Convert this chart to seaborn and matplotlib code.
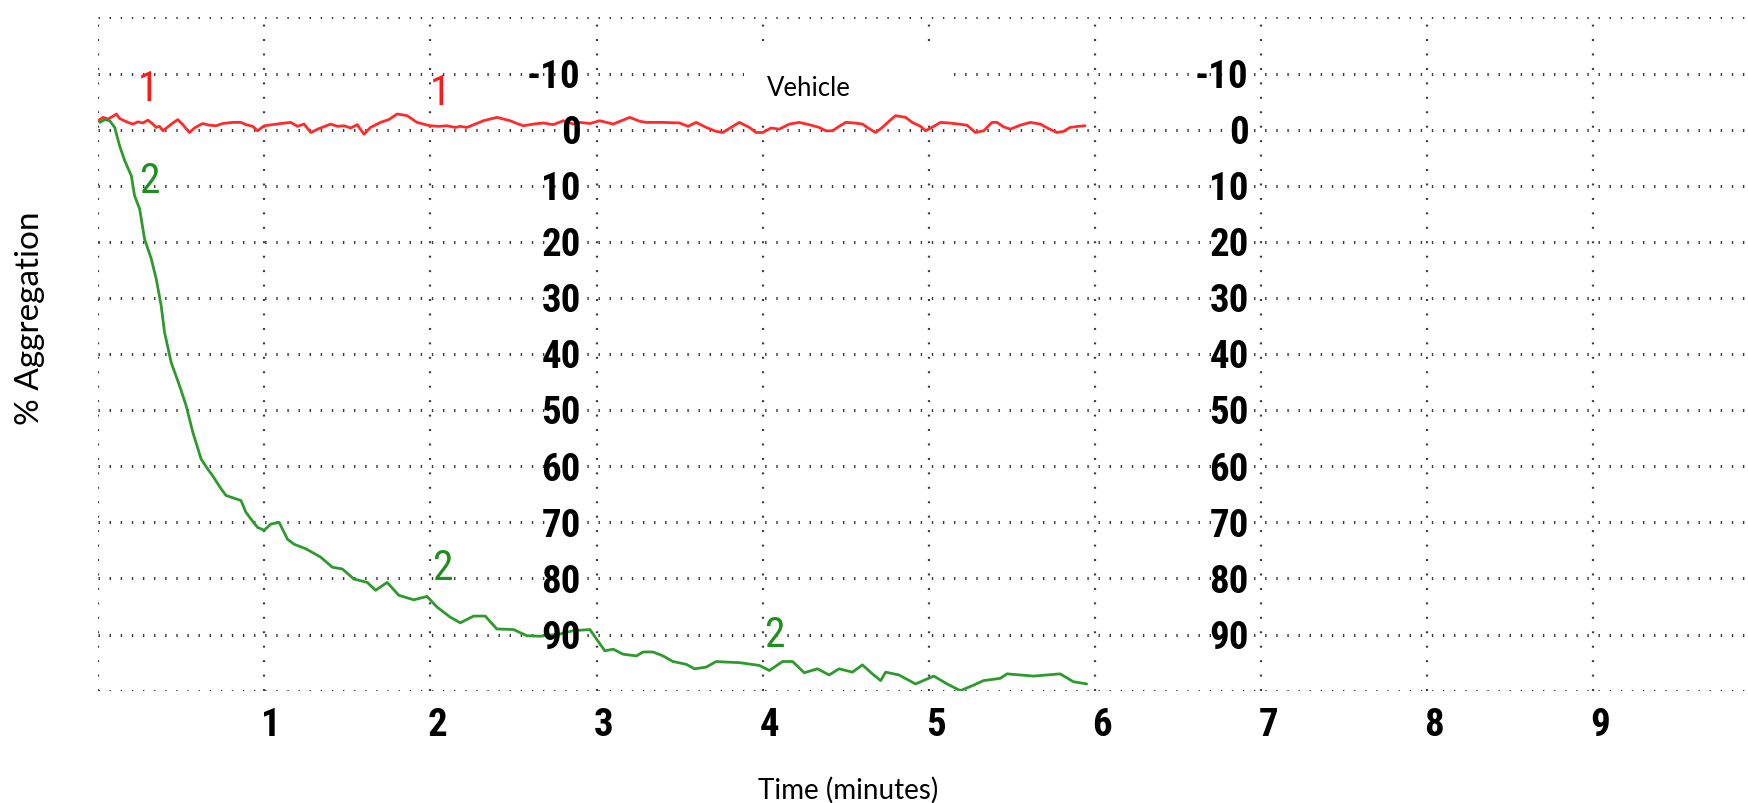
import matplotlib
matplotlib.use("Agg")
import matplotlib.pyplot as plt
import matplotlib.transforms as mtrans
from matplotlib import font_manager
from matplotlib.patches import Rectangle
import pandas as pd
import seaborn as sns

# ---------------- data ----------------
x_ticks = [0, 1, 2, 3, 4, 5, 6, 7, 8, 9]
x_tick_labels = ["", "1", "2", "3", "4", "5", "6", "7", "8", "9"]
y_grid = [-20, -10, 0, 10, 20, 30, 40, 50, 60, 70, 80, 90, 100]
y_labels = [-10, 0, 10, 20, 30, 40, 50, 60, 70, 80, 90]

# trace 1 (red, vehicle baseline)
trace1_time = [0.00, 0.03, 0.06, 0.09, 0.11, 0.13, 0.15, 0.18, 0.21, 0.24, 0.27, 0.30,
               0.33, 0.35, 0.37, 0.39, 0.42, 0.45, 0.48, 0.51, 0.55, 0.58, 0.61, 0.63,
               0.67, 0.71, 0.75, 0.81, 0.86, 0.89, 0.93, 0.96, 1.00, 1.05, 1.10, 1.16,
               1.20, 1.24, 1.28, 1.33, 1.40, 1.44, 1.48, 1.52, 1.56, 1.60, 1.64, 1.70,
               1.75, 1.80, 1.86, 1.92, 1.97, 2.00, 2.05, 2.10, 2.15, 2.18, 2.22, 2.27,
               2.32, 2.40, 2.48, 2.53, 2.56, 2.62, 2.68, 2.74, 2.80, 2.86, 2.90, 2.96,
               3.02, 3.06, 3.10, 3.15, 3.20, 3.26, 3.30, 3.40, 3.50, 3.55, 3.60, 3.66,
               3.72, 3.76, 3.82, 3.86, 3.92, 3.96, 4.00, 4.05, 4.10, 4.16, 4.22, 4.28,
               4.34, 4.38, 4.42, 4.46, 4.50, 4.55, 4.60, 4.64, 4.68, 4.72, 4.76, 4.80,
               4.86, 4.90, 4.95, 4.98, 5.03, 5.07, 5.12, 5.18, 5.23, 5.28, 5.33, 5.38,
               5.41, 5.45, 5.49, 5.55, 5.61, 5.67, 5.72, 5.77, 5.81, 5.85, 5.90, 5.94]
trace1_agg = [-1.6, -2.2, -1.9, -2.4, -2.8, -2.0, -1.7, -1.3, -1.0, -1.4, -1.2, -1.7,
              -1.0, -0.4, -0.6, 0.2, -0.5, -1.2, -1.8, -0.9, 0.5, -0.3, -0.8, -1.1,
              -0.8, -0.7, -1.1, -1.3, -1.3, -0.9, -0.6, 0.2, -0.7, -0.9, -1.1, -1.3,
              -0.6, -1.0, 0.5, -0.2, -1.0, -0.6, -0.7, -0.3, -0.9, 0.8, -0.4, -1.3,
              -1.8, -2.8, -2.5, -1.3, -0.9, -0.7, -0.6, -0.7, -0.4, -0.6, -0.4, -1.0,
              -1.6, -2.2, -1.6, -1.0, -0.7, -1.0, -1.2, -0.9, -1.6, -1.0, -1.3, -1.1,
              -1.6, -1.3, -1.0, -1.6, -2.2, -1.5, -1.3, -1.3, -1.2, -0.6, -1.3, -0.4,
              0.3, 0.5, -0.6, -1.3, -0.4, 0.5, 0.5, -0.3, -0.1, -1.0, -1.3, -0.9,
              -0.4, 0.2, 0.2, -0.6, -1.3, -1.2, -1.0, -0.2, 0.5, -0.4, -1.5, -2.5,
              -2.2, -1.3, -0.6, 0.2, -0.6, -1.3, -1.2, -1.0, -0.8, 0.5, 0.2, -1.3,
              -1.3, -0.5, -0.1, -0.8, -1.3, -1.0, -0.2, 0.5, 0.3, -0.4, -0.6, -0.7]

# trace 2 (green, aggregation)
trace2_time = [0.01, 0.04, 0.07, 0.10, 0.13, 0.16, 0.20, 0.22, 0.25, 0.28, 0.32, 0.35,
               0.38, 0.40, 0.44, 0.49, 0.53, 0.57, 0.62, 0.66, 0.69, 0.74, 0.77, 0.83,
               0.86, 0.89, 0.92, 0.96, 1.00, 1.04, 1.09, 1.14, 1.18, 1.25, 1.34, 1.41,
               1.47, 1.54, 1.62, 1.67, 1.74, 1.81, 1.90, 1.98, 2.04, 2.12, 2.18, 2.26,
               2.33, 2.40, 2.50, 2.58, 2.66, 2.78, 2.86, 2.96, 3.00, 3.05, 3.10, 3.16,
               3.24, 3.28, 3.34, 3.40, 3.46, 3.54, 3.59, 3.66, 3.72, 3.78, 3.86, 3.98,
               4.04, 4.12, 4.18, 4.25, 4.33, 4.40, 4.46, 4.54, 4.60, 4.66, 4.71, 4.74,
               4.82, 4.92, 5.03, 5.11, 5.19, 5.27, 5.33, 5.43, 5.47, 5.63, 5.79, 5.87,
               5.95]
trace2_agg = [-1.3, -1.8, -1.6, -0.4, 2.9, 5.5, 8.2, 11.8, 14.1, 19.5, 23.0, 26.6,
              31.4, 36.1, 41.5, 45.6, 49.2, 53.9, 58.7, 60.5, 61.7, 64.0, 65.2, 65.8,
              66.1, 68.2, 69.4, 70.9, 71.4, 70.3, 70.0, 73.0, 73.9, 74.7, 76.2, 78.0,
              78.3, 80.1, 80.7, 82.1, 80.7, 83.0, 83.8, 83.2, 85.1, 86.9, 87.9, 86.7,
              86.7, 89.0, 89.1, 90.2, 90.3, 89.9, 89.3, 89.1, 90.8, 92.9, 92.6, 93.5,
              93.8, 93.1, 93.1, 93.8, 94.8, 95.3, 96.1, 95.8, 94.8, 94.9, 95.0, 95.5,
              96.4, 94.8, 94.8, 96.8, 96.1, 97.2, 96.1, 96.7, 95.4, 97.0, 98.2, 96.7,
              97.2, 98.8, 97.4, 98.8, 100.0, 99.0, 98.2, 97.8, 97.0, 97.4, 97.0, 98.4,
              98.8]

labels_red = [(0.30, -7.3, "1"), (2.06, -6.7, "1")]
labels_green = [(0.31, 9.0, "2"), (2.07, 78.1, "2"), (4.07, 89.9, "2")]

# ---------------- fonts ----------------
_fonts = font_manager.fontManager.ttflist
_names = {f.name for f in _fonts}
NARROW = None
STRETCH = "normal"
for cand in ["Liberation Sans Narrow", "Roboto Condensed", "Open Sans Condensed",
             "Noto Sans Condensed", "DejaVu Sans Condensed"]:
    if cand in _names:
        NARROW = cand
        break
if NARROW is None:
    for fam in ["Liberation Sans", "Roboto", "Noto Sans", "Open Sans", "DejaVu Sans"]:
        if any(f.name == fam and str(f.stretch) != "normal" for f in _fonts):
            NARROW = fam
            STRETCH = "condensed"
            break
if NARROW is None:
    NARROW = "DejaVu Sans"
    STRETCH = "condensed"

# ---------------- styling ----------------
sns.set_theme(style="white")
plt.rcParams["lines.scale_dashes"] = False
plt.rcParams["font.family"] = ["Lato", "DejaVu Sans"]

RED = "#ff2b2b"
GREEN = "#2e9a2e"
GRID = "#3a3a3a"
NFAM = [NARROW, "DejaVu Sans"]

fig = plt.figure(figsize=(17.48, 8.04), dpi=100)
ax = fig.add_axes([0.0561, 0.1397, 0.9439, 0.8373])

df1 = pd.DataFrame({"time": trace1_time, "agg": trace1_agg})
df2 = pd.DataFrame({"time": trace2_time, "agg": trace2_agg})
sns.lineplot(data=df1, x="time", y="agg", ax=ax, color=RED, lw=2.0,
             sort=False, estimator=None, zorder=4)
sns.lineplot(data=df2, x="time", y="agg", ax=ax, color=GREEN, lw=2.0,
             sort=False, estimator=None, zorder=4)

ax.set_xlim(0, 9.93)
ax.set_ylim(100, -20)
ax.set_xticks(x_ticks)
ax.set_xticklabels(x_tick_labels)
ax.set_yticks(y_grid)
ax.set_yticklabels([])
for s in ax.spines.values():
    s.set_visible(False)

ax.yaxis.grid(True, color=GRID, lw=2.2, linestyle=(0, (1.0, 7.0)), zorder=1)
ax.xaxis.grid(True, color=GRID, lw=1.6, linestyle=(0, (1.4, 9.0)), zorder=1)
ax.set_axisbelow(True)

ax.tick_params(axis="both", length=0)
ax.tick_params(axis="x", pad=11)
for lab in ax.get_xticklabels():
    lab.set_fontfamily(NFAM)
    lab.set_fontstretch(STRETCH)
    lab.set_fontweight("bold")
    lab.set_fontsize(28)
    lab.set_color("black")
    lab.set_transform(lab.get_transform() +
                      mtrans.ScaledTranslation(7 / 100, 0, fig.dpi_scale_trans))

ax.set_xlabel("")
ax.set_ylabel("")

# in-plot y scale labels (two columns)
for xcol in (2.905, 6.925):
    for v in y_labels:
        ax.text(xcol, v + 0.5, f"{v}", ha="right", va="center", fontsize=28,
                fontweight="bold", family=NFAM, fontstretch=STRETCH,
                color="black", zorder=5)

# white box behind "Vehicle"
ax.add_patch(Rectangle((3.89, -14.4), 1.21, 12.0, facecolor="white",
                       edgecolor="none", zorder=2))
ax.text(4.28, -7.5, "Vehicle", ha="center", va="center", fontsize=18.5,
        color="black", zorder=6)

for x, y, s in labels_red:
    ax.text(x, y, s, color="#ff1a1a", fontsize=30, family=NFAM,
            fontstretch=STRETCH, ha="center", va="center", zorder=6)
for x, y, s in labels_green:
    ax.text(x, y, s, color="#1f8f1f", fontsize=30, family=NFAM,
            fontstretch=STRETCH, ha="center", va="center", zorder=6)

fig.text(30 / 1748, 1 - 318 / 804, "% Aggregation", rotation=90,
         ha="center", va="center", fontsize=24, color="black")
fig.text(848 / 1748, 1 - 790 / 804, "Time (minutes)", ha="center",
         va="center", fontsize=20, color="black")

fig.savefig("out.png", dpi=100)
